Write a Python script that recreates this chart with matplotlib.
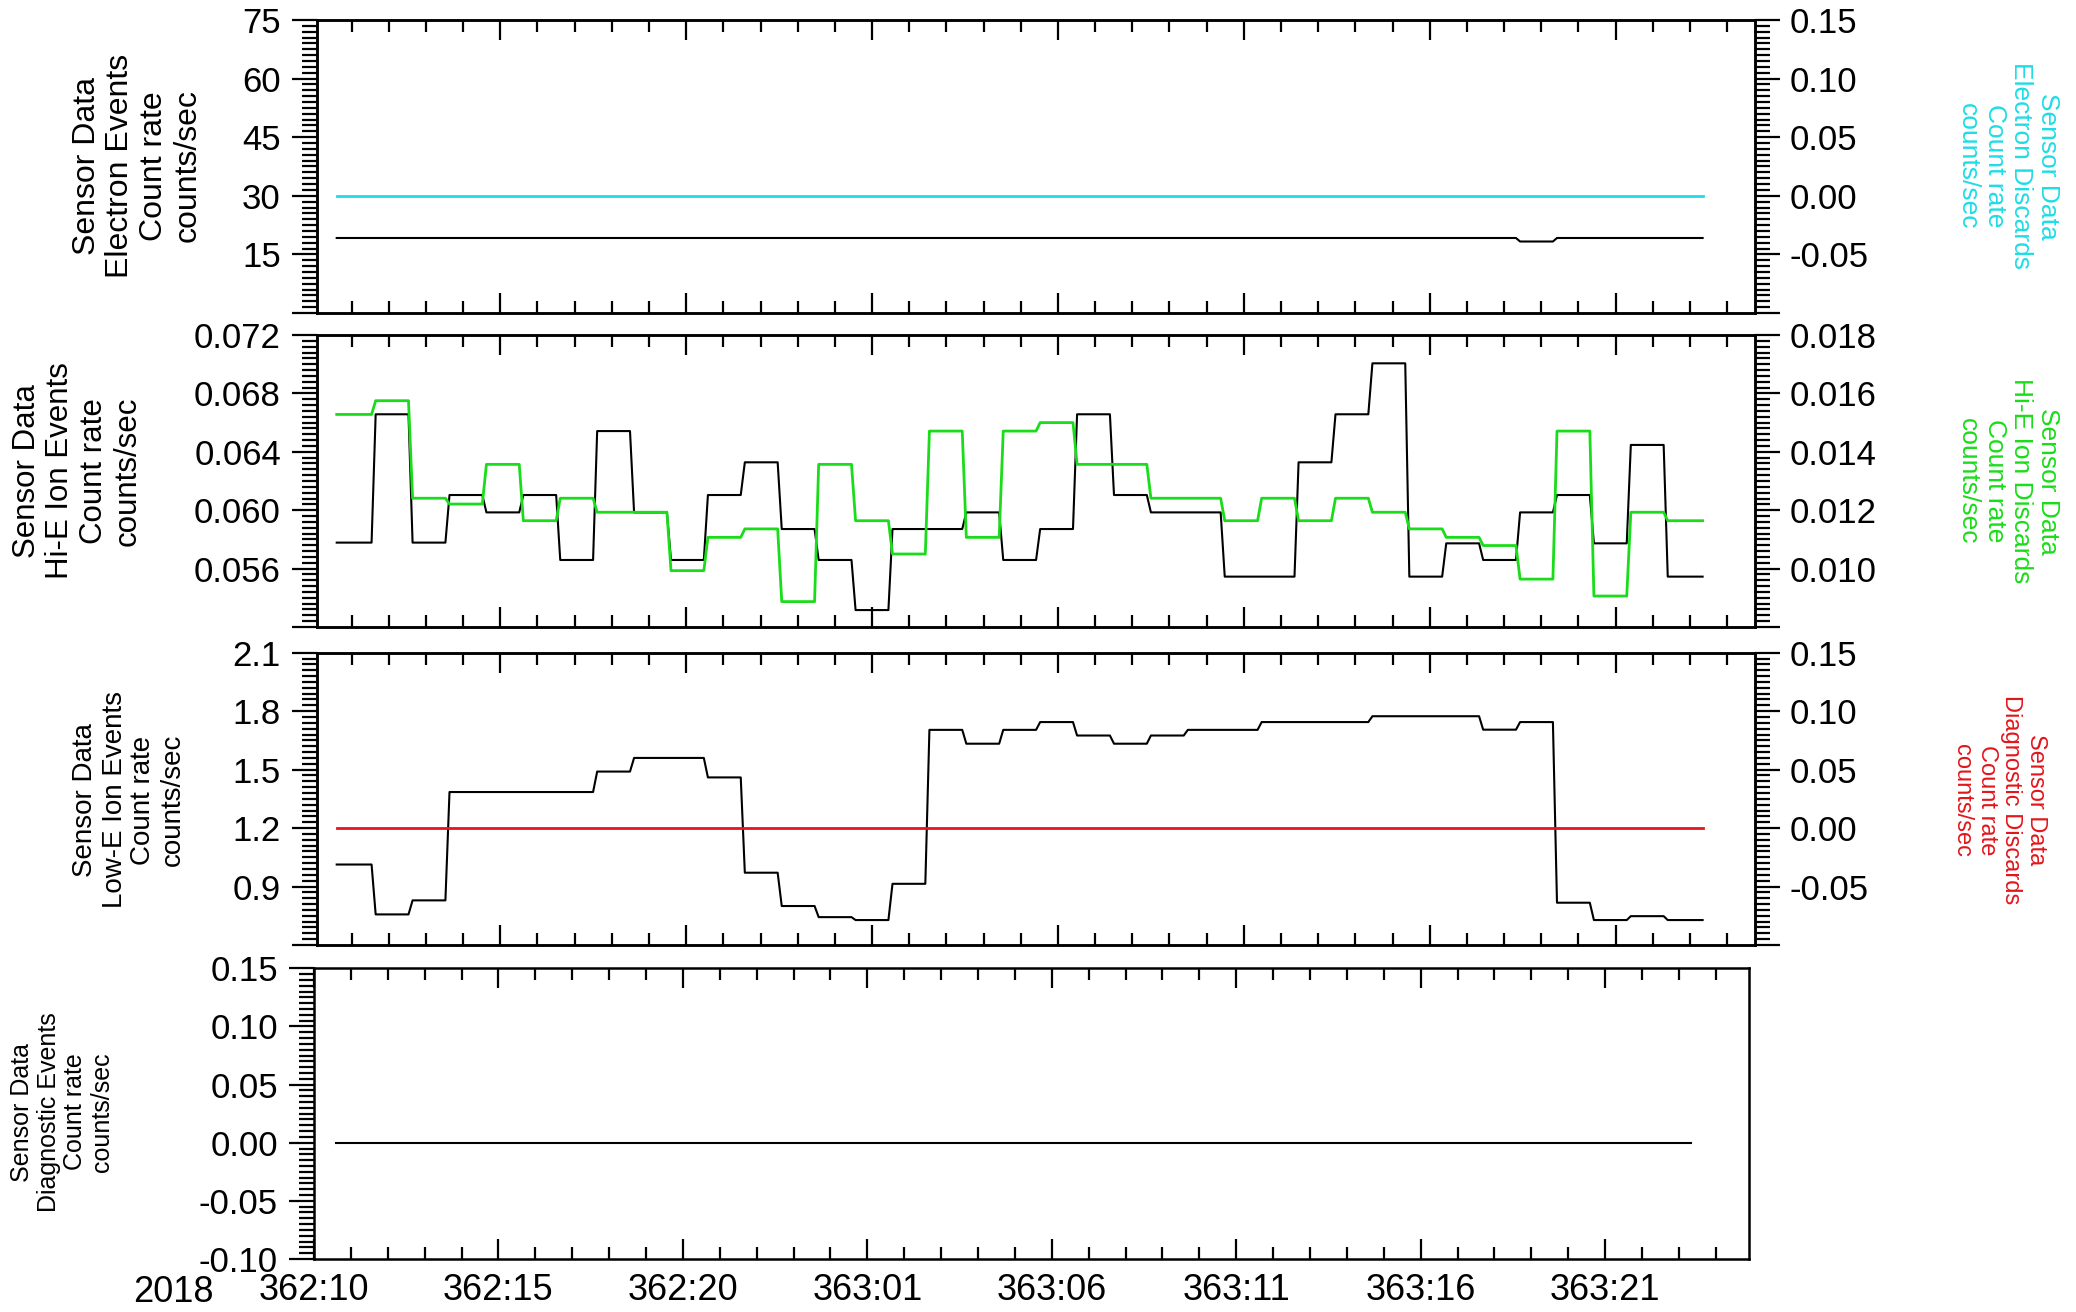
import numpy as np
import matplotlib
matplotlib.use("Agg")
import matplotlib.pyplot as plt
from matplotlib.ticker import AutoMinorLocator, FixedLocator

plt.rcParams['font.family'] = ['Liberation Sans', 'DejaVu Sans']

# ---------------------------------------------------------------------------
# Hourly-averaged count rates, 2018 day 362 10:36 onward (hours of day 362)
# ---------------------------------------------------------------------------
sample_start_hr = 10.60
sample_step_hr = 0.993

electron_events = [19.2, 19.2, 19.2, 19.2, 19.2, 19.2, 19.2, 19.2, 19.2, 19.2,
                   19.2, 19.2, 19.2, 19.2, 19.2, 19.2, 19.2, 19.2, 19.2, 19.2,
                   19.2, 19.2, 19.2, 19.2, 19.2, 19.2, 19.2, 19.2, 19.2, 19.2,
                   19.2, 19.2, 18.3, 19.2, 19.2, 19.2, 19.2]
electron_discards = [0.0] * 37

hie_ion_events = [0.05778, 0.06657, 0.05778, 0.06104, 0.05985, 0.06104, 0.05659,
                  0.06542, 0.05985, 0.05659, 0.06104, 0.06328, 0.05871, 0.05659,
                  0.05316, 0.05871, 0.05871, 0.05985, 0.05659, 0.05871, 0.06657,
                  0.06104, 0.05985, 0.05985, 0.05545, 0.05545, 0.06328, 0.06657,
                  0.07006, 0.05545, 0.05773, 0.05659, 0.05985, 0.06104, 0.05773,
                  0.06447, 0.05545]
hie_ion_discards = [0.01528, 0.01575, 0.01241, 0.01221, 0.01357, 0.01164, 0.01241,
                    0.01193, 0.01193, 0.00993, 0.01107, 0.01136, 0.00887, 0.01357,
                    0.01164, 0.01050, 0.01471, 0.01107, 0.01471, 0.01500, 0.01357,
                    0.01357, 0.01241, 0.01241, 0.01164, 0.01241, 0.01164, 0.01241,
                    0.01193, 0.01136, 0.01107, 0.01079, 0.00964, 0.01471, 0.00906,
                    0.01193, 0.01164]

lowe_ion_events = [1.013, 0.757, 0.829, 1.385, 1.385, 1.385, 1.385, 1.490, 1.560,
                   1.560, 1.460, 0.971, 0.800, 0.743, 0.728, 0.914, 1.704, 1.633,
                   1.704, 1.744, 1.675, 1.633, 1.675, 1.704, 1.704, 1.744, 1.744,
                   1.744, 1.774, 1.774, 1.774, 1.705, 1.744, 0.817, 0.728, 0.748,
                   0.728]
diagnostic_discards = [0.0] * 37
diagnostic_events = [0.0] * 37

# Time axis labels (day-of-year:hour)
time_ticks = [10, 15, 20, 25, 30, 35, 40, 45]
time_labels = ["362:10", "362:15", "362:20", "363:01", "363:06", "363:11",
               "363:16", "363:21"]
year_label = "2018"

# Y axis ticks / labels for each panel
p1_left_ticks = [0, 15, 30, 45, 60, 75]
p1_left_labels = ["", "15", "30", "45", "60", "75"]
p1_right_ticks = [-0.10, -0.05, 0.0, 0.05, 0.10, 0.15]
p1_right_labels = ["", "-0.05", "0.00", "0.05", "0.10", "0.15"]
p2_left_ticks = [0.052, 0.056, 0.060, 0.064, 0.068, 0.072]
p2_left_labels = ["", "0.056", "0.060", "0.064", "0.068", "0.072"]
p2_right_ticks = [0.008, 0.010, 0.012, 0.014, 0.016, 0.018]
p2_right_labels = ["", "0.010", "0.012", "0.014", "0.016", "0.018"]
p3_left_ticks = [0.6, 0.9, 1.2, 1.5, 1.8, 2.1]
p3_left_labels = ["", "0.9", "1.2", "1.5", "1.8", "2.1"]
p3_right_ticks = [-0.10, -0.05, 0.0, 0.05, 0.10, 0.15]
p3_right_labels = ["", "-0.05", "0.00", "0.05", "0.10", "0.15"]
p4_left_ticks = [-0.10, -0.05, 0.0, 0.05, 0.10, 0.15]
p4_left_labels = ["-0.10", "-0.05", "0.00", "0.05", "0.10", "0.15"]

CYAN = "#1FDCE6"
GREEN = "#1ADC1A"
RED = "#E2161B"

W, H = 2076, 1312
fig = plt.figure(figsize=(W / 100, H / 100), dpi=100)


def px_axes(left, top, right, bottom):
    return fig.add_axes([left / W, 1 - bottom / H, (right - left) / W, (bottom - top) / H])


def step_path(values, ramp=0.11):
    n = len(values)
    edges = sample_start_hr + sample_step_hr * np.arange(n + 1)
    xs, ys = [], []
    for k, v in enumerate(values):
        a = edges[k] + (ramp / 2 if k > 0 else 0.0)
        b = edges[k + 1] - (ramp / 2 if k < n - 1 else 0.0)
        xs += [a, b]
        ys += [v, v]
    return np.array(xs), np.array(ys)


minor_hours = [h for h in range(9, 50) if h not in time_ticks]
SPINE_W = 1.8
TICK_W = 1.6


def style_time_axis(ax, xlim, show_labels):
    ax.set_xlim(*xlim)
    ax.xaxis.set_major_locator(FixedLocator(time_ticks))
    ax.xaxis.set_minor_locator(FixedLocator(minor_hours))
    if show_labels:
        ax.set_xticklabels(time_labels)
    else:
        ax.set_xticklabels([])
    ax.tick_params(axis='x', which='major', direction='in', top=True, bottom=True,
                   length=14.4, width=TICK_W, labelsize=26, pad=10)
    ax.tick_params(axis='x', which='minor', direction='in', top=True, bottom=True,
                   length=8.6, width=TICK_W)
    for s in ax.spines.values():
        s.set_linewidth(SPINE_W)


def style_y(ax, ticks, labels, side):
    ax.set_ylim(ticks[0], ticks[-1])
    ax.set_yticks(ticks, labels)
    ax.yaxis.set_minor_locator(AutoMinorLocator(10))
    pad = 8 if side == 'left' else 7
    if side == 'left':
        ax.tick_params(axis='y', which='both', direction='out', left=True, right=False)
    else:
        ax.tick_params(axis='y', which='both', direction='out', left=False, right=True)
    ax.tick_params(axis='y', which='major', length=18, width=TICK_W, labelsize=25, pad=pad)
    ax.tick_params(axis='y', which='minor', length=10.8, width=TICK_W)


top_xlim = (10.07, 48.75)
bot_xlim = (10.0, 48.9)

panels = [
    (20, 313, electron_events, electron_discards, CYAN,
     p1_left_ticks, p1_left_labels, p1_right_ticks, p1_right_labels),
    (335, 627, hie_ion_events, hie_ion_discards, GREEN,
     p2_left_ticks, p2_left_labels, p2_right_ticks, p2_right_labels),
    (652.7, 945, lowe_ion_events, diagnostic_discards, RED,
     p3_left_ticks, p3_left_labels, p3_right_ticks, p3_right_labels),
]

for top, bottom, left_vals, right_vals, color, lt, ll, rt, rl in panels:
    ax = px_axes(317, top, 1755, bottom)
    axr = ax.twinx()
    x, y = step_path(left_vals)
    ax.plot(x, y, color='black', lw=1.5, solid_joinstyle='round')
    xr, yr = step_path(right_vals)
    axr.plot(xr, yr, color=color, lw=2.0, solid_joinstyle='round')
    style_time_axis(ax, top_xlim, False)
    style_y(ax, lt, ll, 'left')
    style_y(axr, rt, rl, 'right')
    for s in axr.spines.values():
        s.set_linewidth(SPINE_W)

ax4 = px_axes(314, 968.3, 1749, 1259)
x4, y4 = step_path(diagnostic_events)
ax4.plot(x4, y4, color='black', lw=1.5)
style_time_axis(ax4, bot_xlim, True)
style_y(ax4, p4_left_ticks, p4_left_labels, 'left')
ax4.tick_params(axis='y', which='both', right=False)

fig.text(214 / W, 1 - 1275 / H, year_label, ha='right', va='top', fontsize=26)


def side_title(xc, yc, text, size, color='black', rot=90):
    fig.text(xc / W, 1 - yc / H, text, rotation=rot, ha='center', va='center',
             multialignment='center', fontsize=size, color=color, linespacing=1.15,
             rotation_mode='anchor')


side_title(137, 166, "Sensor Data\nElectron Events\nCount rate\ncounts/sec", 23)
side_title(77, 471, "Sensor Data\nHi-E Ion Events\nCount rate\ncounts/sec", 22.5)
side_title(129, 800, "Sensor Data\nLow-E Ion Events\nCount rate\ncounts/sec", 20)
side_title(62, 1112, "Sensor Data\nDiagnostic Events\nCount rate\ncounts/sec", 18)
side_title(2008, 166, "Sensor Data\nElectron Discards\nCount rate\ncounts/sec", 19, CYAN, 270)
side_title(2008, 481, "Sensor Data\nHi-E Ion Discards\nCount rate\ncounts/sec", 19, GREEN, 270)
side_title(1999, 800, "Sensor Data\nDiagnostic Discards\nCount rate\ncounts/sec", 17, RED, 270)

fig.savefig("out.png", dpi=100, facecolor='white')
